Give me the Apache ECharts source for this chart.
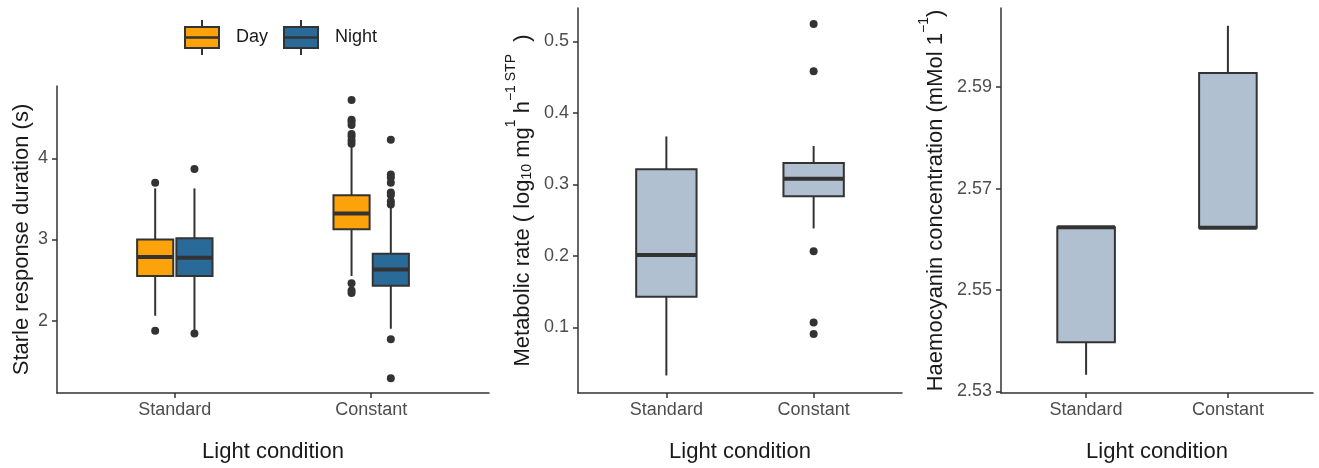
<!DOCTYPE html>
<html>
<head>
<meta charset="utf-8">
<script src="https://cdn.jsdelivr.net/npm/echarts@6/dist/echarts.min.js"></script>
<style>
  html, body { margin: 0; padding: 0; background: #fff; }
  #chart { width: 1319px; height: 468px; }
</style>
</head>
<body>
<div id="chart"></div>
<script>
// categories and tick labels
const categories = ['Standard', 'Constant'];
const startleTicks = [2, 3, 4];
const metabolicTicks = [0.1, 0.2, 0.3, 0.4, 0.5];
const haemoTicks = [2.53, 2.55, 2.57, 2.59];

// box stats per category: [lowWhisker, q1, median, q3, highWhisker]
const startleDay = [[2.06, 2.55, 2.785, 3.00, 3.63], [2.55, 3.125, 3.32, 3.545, 4.15]];
const startleNight = [[1.87, 2.55, 2.775, 3.015, 3.63], [1.90, 2.43, 2.63, 2.825, 3.41]];
const metabolic = [[0.033, 0.143, 0.2015, 0.321, 0.367], [0.2385, 0.2836, 0.308, 0.330, 0.3536]];
const haemo = [[2.5333, 2.5397, 2.5624, 2.5624, 2.5624], [2.5623, 2.5623, 2.5623, 2.5928, 2.6021]];

// outliers per category
const startleDayOut = [[3.70, 1.875], [4.72, 4.475, 4.45, 4.41, 4.30, 4.27, 4.22, 4.18, 2.46, 2.37, 2.34]];
const startleNightOut = [[3.87, 1.84], [4.23, 3.80, 3.765, 3.70, 3.58, 3.55, 3.47, 3.43, 1.77, 1.29]];
const metabolicOut = [[], [0.524, 0.458, 0.2067, 0.107, 0.091]];

const dark = '#333333';
const fillDay = '#FCA30B';
const fillNight = '#2A6A98';
const fillGrey = '#B0C0D1';

function boxSeries(stats, gridIdx, offset, halfWidth, color) {
  return {
    type: 'custom',
    xAxisIndex: gridIdx,
    yAxisIndex: gridIdx,
    data: stats.map((s, i) => [i + 1 + offset].concat(s)),
    renderItem: function (params, api) {
      const x = api.value(0);
      const lo = api.value(1), q1 = api.value(2), md = api.value(3), q3 = api.value(4), hi = api.value(5);
      const pLo = api.coord([x, lo]);
      const pHi = api.coord([x, hi]);
      const pQ1 = api.coord([x - halfWidth, q1]);
      const pQ3 = api.coord([x + halfWidth, q3]);
      const pMdL = api.coord([x - halfWidth, md]);
      const pMdR = api.coord([x + halfWidth, md]);
      return {
        type: 'group',
        children: [
          { type: 'line', shape: { x1: pHi[0], y1: pHi[1], x2: pHi[0], y2: pQ3[1] },
            style: { stroke: dark, lineWidth: 2 } },
          { type: 'line', shape: { x1: pLo[0], y1: pLo[1], x2: pLo[0], y2: pQ1[1] },
            style: { stroke: dark, lineWidth: 2 } },
          { type: 'rect', shape: { x: pQ1[0], y: pQ3[1], width: pQ3[0] - pQ1[0], height: pQ1[1] - pQ3[1] },
            style: { fill: color, stroke: dark, lineWidth: 2 } },
          { type: 'line', shape: { x1: pMdL[0], y1: pMdL[1], x2: pMdR[0], y2: pMdR[1] },
            style: { stroke: dark, lineWidth: 4 } }
        ]
      };
    },
    z: 2
  };
}

function outlierSeries(out, gridIdx, offset) {
  const pts = [];
  out.forEach((vals, i) => vals.forEach(v => pts.push([i + 1 + offset, v])));
  return {
    type: 'scatter',
    xAxisIndex: gridIdx,
    yAxisIndex: gridIdx,
    data: pts,
    symbolSize: 8,
    itemStyle: { color: dark, opacity: 1 },
    z: 3
  };
}

const tickFont = { color: '#4D4D4D', fontSize: 18, fontFamily: 'Liberation Sans' };
const titleFont = { color: '#1A1A1A', fontSize: 22, fontFamily: 'Liberation Sans' };
const axisLine = { show: true, lineStyle: { color: dark, width: 1.5 } };
const axisTick = (vals) => ({ show: true, length: 5, customValues: vals, lineStyle: { color: dark, width: 1.5 } });

function xAxis(gridIdx) {
  return {
    type: 'value', gridIndex: gridIdx, min: 0.4, max: 2.6,
    axisLine: axisLine,
    axisTick: axisTick([1, 2]),
    axisLabel: Object.assign({ customValues: [1, 2], margin: 8, formatter: v => categories[Math.round(v) - 1] }, tickFont),
    splitLine: { show: false },
    name: 'Light condition', nameLocation: 'middle', nameGap: 48,
    nameTextStyle: titleFont
  };
}

function yAxis(gridIdx, min, max, ticks, digits, name, gap, rich) {
  return {
    type: 'value', gridIndex: gridIdx, min: min, max: max,
    axisLine: axisLine,
    axisTick: axisTick(ticks),
    axisLabel: Object.assign({ customValues: ticks, margin: 9, formatter: v => v.toFixed(digits) }, tickFont),
    splitLine: { show: false },
    name: name, nameLocation: 'middle', nameGap: gap, nameRotate: 90,
    nameTextStyle: Object.assign({ rich: rich || {} }, titleFont)
  };
}

const metRich = {
  n: { fontSize: 22, fontFamily: 'Liberation Sans', color: '#1A1A1A', verticalAlign: 'bottom', lineHeight: 30 },
  sub: { fontSize: 14, fontFamily: 'Liberation Sans', color: '#1A1A1A', verticalAlign: 'bottom', lineHeight: 24 },
  sup: { fontSize: 14, fontFamily: 'Liberation Sans', color: '#1A1A1A', verticalAlign: 'top', lineHeight: 30 }
};
const metName = '{n|Metabolic rate ( log}{sub|10}{n| mg}{sup|1}{n| h}{sup|\u22121 STP}{n|  )}';
const haeName = '{n|Haemocyanin concentration (mMol 1}{sup|\u22121}{n|)}';

function legendKey(x, color, label) {
  return [
    { type: 'line', shape: { x1: x + 17, y1: 20, x2: x + 17, y2: 55 }, style: { stroke: dark, lineWidth: 2 } },
    { type: 'rect', shape: { x: x, y: 27, width: 34, height: 21 }, style: { fill: color, stroke: dark, lineWidth: 2 } },
    { type: 'line', shape: { x1: x, y1: 37.5, x2: x + 34, y2: 37.5 }, style: { stroke: dark, lineWidth: 2.5 } },
    { type: 'text', x: x + 51, y: 37.5, style: { text: label, fill: '#1A1A1A', font: '18px "Liberation Sans"', textVerticalAlign: 'middle' } }
  ];
}

const chart = echarts.init(document.getElementById('chart'));
chart.setOption({
  animation: false,
  grid: [
    { left: 57, top: 86, width: 432, height: 308 },
    { left: 578, top: 8, width: 324, height: 386 },
    { left: 1001, top: 8, width: 312, height: 386 }
  ],
  xAxis: [xAxis(0), xAxis(1), xAxis(2)],
  yAxis: [
    yAxis(0, 1.108, 4.892, startleTicks, 0, 'Starle response duration (s)', 24),
    yAxis(1, 0.0085, 0.5465, metabolicTicks, 1, metName, 44, metRich),
    yAxis(2, 2.5297, 2.6056, haemoTicks, 2, haeName, 54, metRich)
  ],
  graphic: legendKey(185, fillDay, 'Day').concat(legendKey(284, fillNight, 'Night')),
  series: [
    boxSeries(startleDay, 0, -0.1, 0.092, fillDay),
    boxSeries(startleNight, 0, 0.1, 0.092, fillNight),
    outlierSeries(startleDayOut, 0, -0.1),
    outlierSeries(startleNightOut, 0, 0.1),
    boxSeries(metabolic, 1, 0, 0.205, fillGrey),
    outlierSeries(metabolicOut, 1, 0),
    boxSeries(haemo, 2, 0, 0.203, fillGrey)
  ]
});
</script>
</body>
</html>
